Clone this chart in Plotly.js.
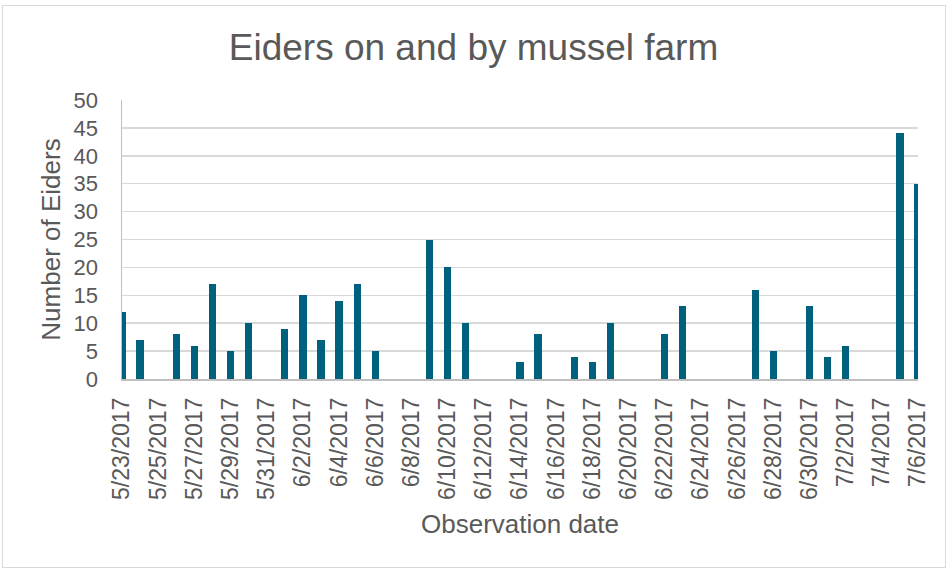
<!DOCTYPE html>
<html>
<head>
<meta charset="utf-8">
<script src="https://cdn.plot.ly/plotly-3.0.1.min.js"></script>
<style>
  html, body { margin: 0; padding: 0; background: #ffffff; }
  #wrap { position: relative; width: 947px; height: 570px; }
  #chart { position: absolute; left: 0; top: 0; width: 947px; height: 570px; }
  #frame { position: absolute; left: 2px; top: 5px; width: 942px; height: 561px; border: 1px solid #d9d9d9; pointer-events: none; }
</style>
</head>
<body>
<div id="wrap">
  <div id="chart"></div>
  <div id="frame"></div>
</div>
<script>
// Observation dates and eider counts
var obsDates = [
  "2017-05-23", "2017-05-24", "2017-05-26", "2017-05-27", "2017-05-28",
  "2017-05-29", "2017-05-30", "2017-06-01", "2017-06-02", "2017-06-03",
  "2017-06-04", "2017-06-05", "2017-06-06", "2017-06-09", "2017-06-10",
  "2017-06-11", "2017-06-14", "2017-06-15", "2017-06-17", "2017-06-18",
  "2017-06-19", "2017-06-22", "2017-06-23", "2017-06-27", "2017-06-28",
  "2017-06-30", "2017-07-01", "2017-07-02", "2017-07-05", "2017-07-06"
];
var eiderCounts = [
  12, 7, 8, 6, 17,
  5, 10, 9, 15, 7,
  14, 17, 5, 25, 20,
  10, 3, 8, 4, 3,
  10, 8, 13, 16, 5,
  13, 4, 6, 44, 35
];
var axisStart = "2017-05-23";
var axisEnd = "2017-07-06";
var chartTitle = "Eiders on and by mussel farm";
var xTitle = "Observation date";
var yTitle = "Number of Eiders";

var DAY = 86400000;
var textColor = "#595959";
var fontFam = "Arial, 'Liberation Sans', sans-serif";

var trace = {
  type: "bar",
  x: obsDates,
  y: eiderCounts,
  width: 0.4 * DAY,
  marker: { color: "#00617f" },
  hoverinfo: "x+y"
};

var layout = {
  width: 947,
  height: 570,
  margin: { l: 122, r: 29, t: 100, b: 191, pad: 0 },
  paper_bgcolor: "rgba(0,0,0,0)",
  plot_bgcolor: "#ffffff",
  showlegend: false,
  title: {
    text: chartTitle,
    font: { family: fontFam, size: 37, color: textColor },
    x: 0.5,
    xref: "container",
    xanchor: "center",
    y: 1 - 47 / 570,
    yref: "container",
    yanchor: "middle"
  },
  xaxis: {
    type: "date",
    range: [axisStart, axisEnd],
    tick0: axisStart,
    dtick: 2 * DAY,
    tickformat: "%-m/%-d/%Y",
    tickangle: -90,
    tickfont: { family: fontFam, size: 23, color: textColor },
    ticks: "",
    ticklabelstandoff: 8,
    showgrid: false,
    showline: true,
    linecolor: "#bfbfbf",
    linewidth: 1.5,
    zeroline: false,
    automargin: false,
    title: {
      text: xTitle,
      font: { family: fontFam, size: 26, color: textColor },
      standoff: 16
    }
  },
  yaxis: {
    range: [0, 50],
    dtick: 5,
    tick0: 0,
    tickfont: { family: fontFam, size: 22, color: textColor },
    ticks: "",
    ticklabelstandoff: 18,
    showgrid: true,
    gridcolor: "#d9d9d9",
    gridwidth: 1.5,
    showline: true,
    linecolor: "#bfbfbf",
    linewidth: 1.5,
    zeroline: false,
    automargin: false,
    title: {
      text: yTitle,
      font: { family: fontFam, size: 26, color: textColor },
      standoff: 5
    }
  },
  bargap: 0
};

Plotly.newPlot("chart", [trace], layout, { displayModeBar: false, staticPlot: true });
</script>
</body>
</html>
